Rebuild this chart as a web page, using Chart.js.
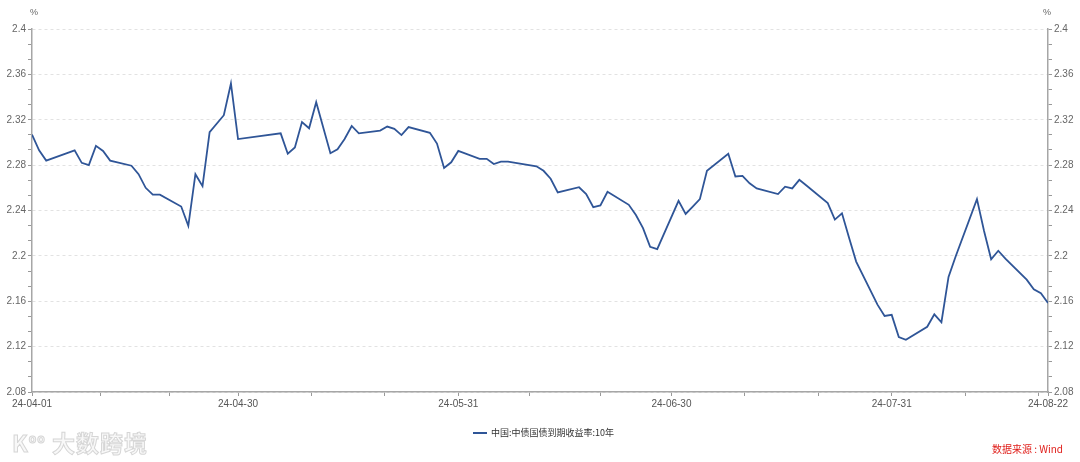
<!DOCTYPE html>
<html lang="zh">
<head>
<meta charset="UTF-8">
<title>中债国债到期收益率:10年</title>
<script src="https://cdn.jsdelivr.net/npm/chart.js"></script>
<style>
  body { margin: 0; background: #fff; }
  #wrap { position: relative; width: 1080px; height: 462px; }
  .pct { position: absolute; top: 7px; font: 9px 'Liberation Sans', sans-serif; color: #666; }
  #legend { position: absolute; left: 473px; top: 426px; font: 9px 'Noto Sans CJK SC', sans-serif; color: #333; display: flex; align-items: center; }
  #legend span.swatch { display: inline-block; width: 14px; height: 2px; background: #2f5597; margin-right: 4px; }
  #source { position: absolute; right: 17px; top: 441px; font: 10px 'Noto Sans CJK SC', sans-serif; color: #e0201c; }
  #mark { position: absolute; left: 12px; top: 425px; font: bold 23px 'Noto Sans CJK SC', sans-serif; color: #f8f8f8; -webkit-text-stroke: 1px #d6d6d6; letter-spacing: 1px; }
</style>
</head>
<body>
<div id="wrap">
  <canvas id="chart"></canvas>
  <div class="pct" style="left:30px">%</div>
  <div class="pct" style="left:1043px">%</div>
  <div id="legend"><span class="swatch"></span>中国:中债国债到期收益率:10年</div>
  <div id="source">数据来源 : Wind</div>
  <div id="mark">K<sup style="font-size:12px">oo</sup> 大数跨境</div>
</div>
<script>
  // trading days (2024) and 10y yield, %
  const dates = [
    '04-01','04-02','04-03','04-07','04-08','04-09','04-10','04-11','04-12',
    '04-15','04-16','04-17','04-18','04-19','04-22','04-23','04-24','04-25','04-26',
    '04-28','04-29','04-30','05-06','05-07','05-08','05-09','05-10','05-11',
    '05-13','05-14','05-15','05-16','05-17','05-20','05-21','05-22','05-23','05-24',
    '05-27','05-28','05-29','05-30','05-31','06-03','06-04','06-05','06-06','06-07',
    '06-11','06-12','06-13','06-14','06-17','06-18','06-19','06-20','06-21',
    '06-24','06-25','06-26','06-27','06-28','07-01','07-02','07-03','07-04','07-05',
    '07-08','07-09','07-10','07-11','07-12','07-15','07-16','07-17','07-18','07-19',
    '07-22','07-23','07-24','07-25','07-26','07-29','07-30','07-31','08-01','08-02',
    '08-05','08-06','08-07','08-08','08-09','08-12','08-13','08-14','08-15','08-16',
    '08-19','08-20','08-21','08-22'
  ];
  const yields = [
    2.307, 2.293, 2.284, 2.293, 2.282, 2.280, 2.297, 2.2925, 2.284,
    2.2795, 2.272, 2.260, 2.254, 2.254, 2.2435, 2.2265, 2.272, 2.2615, 2.309,
    2.324, 2.352, 2.303, 2.308, 2.290, 2.2955, 2.318, 2.3125, 2.3355,
    2.2905, 2.294, 2.303, 2.3145, 2.308, 2.3105, 2.314, 2.312, 2.3065, 2.3135,
    2.3085, 2.299, 2.2775, 2.2825, 2.2925, 2.2855, 2.2855, 2.281, 2.283, 2.283,
    2.279, 2.275, 2.268, 2.256, 2.2605, 2.2545, 2.243, 2.2445, 2.2565,
    2.245, 2.236, 2.2245, 2.208, 2.206, 2.2485, 2.237, 2.2435, 2.250, 2.275,
    2.290, 2.270, 2.2705, 2.264, 2.2595, 2.2545, 2.261, 2.2595, 2.267, 2.262,
    2.2465, 2.232, 2.2375, 2.216, 2.195, 2.157, 2.147, 2.148, 2.1285, 2.126,
    2.1375, 2.1485, 2.1415, 2.1815, 2.1995, 2.250, 2.222, 2.197, 2.2045, 2.1975,
    2.179, 2.1705, 2.167, 2.1585
  ];
  // x ticks in days since 2024-04-01
  const xTickDays = [0, 9.67, 19.33, 29, 39.33, 49.67, 60, 70, 80, 90, 100.33, 110.67, 121, 131.33, 141.67, 143];
  const xTickLabels = ['24-04-01', '', '', '24-04-30', '', '', '24-05-31', '', '', '24-06-30', '', '', '24-07-31', '', '', '24-08-22'];
  const yMin = 2.08, yMax = 2.4, yMajor = 0.04, yMinorPerMajor = 3;

  const start = Date.UTC(2024, 3, 1);
  const dayOf = d => {
    const [m, dd] = d.split('-').map(Number);
    return (Date.UTC(2024, m - 1, dd) - start) / 86400000;
  };
  const points = dates.map((d, i) => ({ x: dayOf(d), y: yields[i] }));

  const font = { family: "'Liberation Sans', sans-serif", size: 10 };

  function yTicks(scale) {
    const n = Math.round((yMax - yMin) / yMajor) * yMinorPerMajor;
    const t = [];
    for (let i = 0; i <= n; i++) t.push({ value: yMin + i * yMajor / yMinorPerMajor });
    scale.ticks = t;
  }
  const yLabel = (v, i) => i % yMinorPerMajor === 0 ? String(parseFloat(v.toFixed(2))) : '';

  const yAxis = (position, onArea) => ({
    type: 'linear',
    position,
    min: yMin,
    max: yMax,
    afterBuildTicks: yTicks,
    afterFit: s => { s.width = 32; },
    ticks: { autoSkip: false, color: '#666', font, padding: 2, callback: yLabel },
    grid: {
      drawOnChartArea: onArea,
      color: ctx => ctx.index % yMinorPerMajor === 0 ? '#e2e2e2' : 'rgba(0,0,0,0)',
      tickColor: '#999',
      tickLength: 4
    },
    border: { color: '#a6a6a6', width: 1.5, dash: [3, 3] }
  });

  new Chart(document.getElementById('chart'), {
    type: 'line',
    data: {
      datasets: [{
        label: '中国:中债国债到期收益率:10年',
        data: points,
        borderColor: '#2f5597',
        borderWidth: 1.8,
        pointRadius: 0,
        tension: 0,
        fill: false
      }]
    },
    options: {
      responsive: true,
      maintainAspectRatio: false,
      animation: false,
      layout: { padding: { top: 29, bottom: 50, left: 0, right: 0 } },
      plugins: { legend: { display: false }, tooltip: { enabled: false } },
      scales: {
        x: {
          type: 'linear',
          min: 0,
          max: 143,
          afterBuildTicks: s => { s.ticks = xTickDays.map(v => ({ value: v })); },
          afterFit: s => { s.height = 20; },
          ticks: { autoSkip: false, maxRotation: 0, color: '#555', font, padding: 2, callback: (v, i) => xTickLabels[i] },
          grid: { drawOnChartArea: false, tickColor: '#999', tickLength: 4 },
          border: { color: '#a6a6a6', width: 1.5 }
        },
        y: yAxis('left', true),
        y2: yAxis('right', false)
      }
    }
  });
</script>
</body>
</html>
